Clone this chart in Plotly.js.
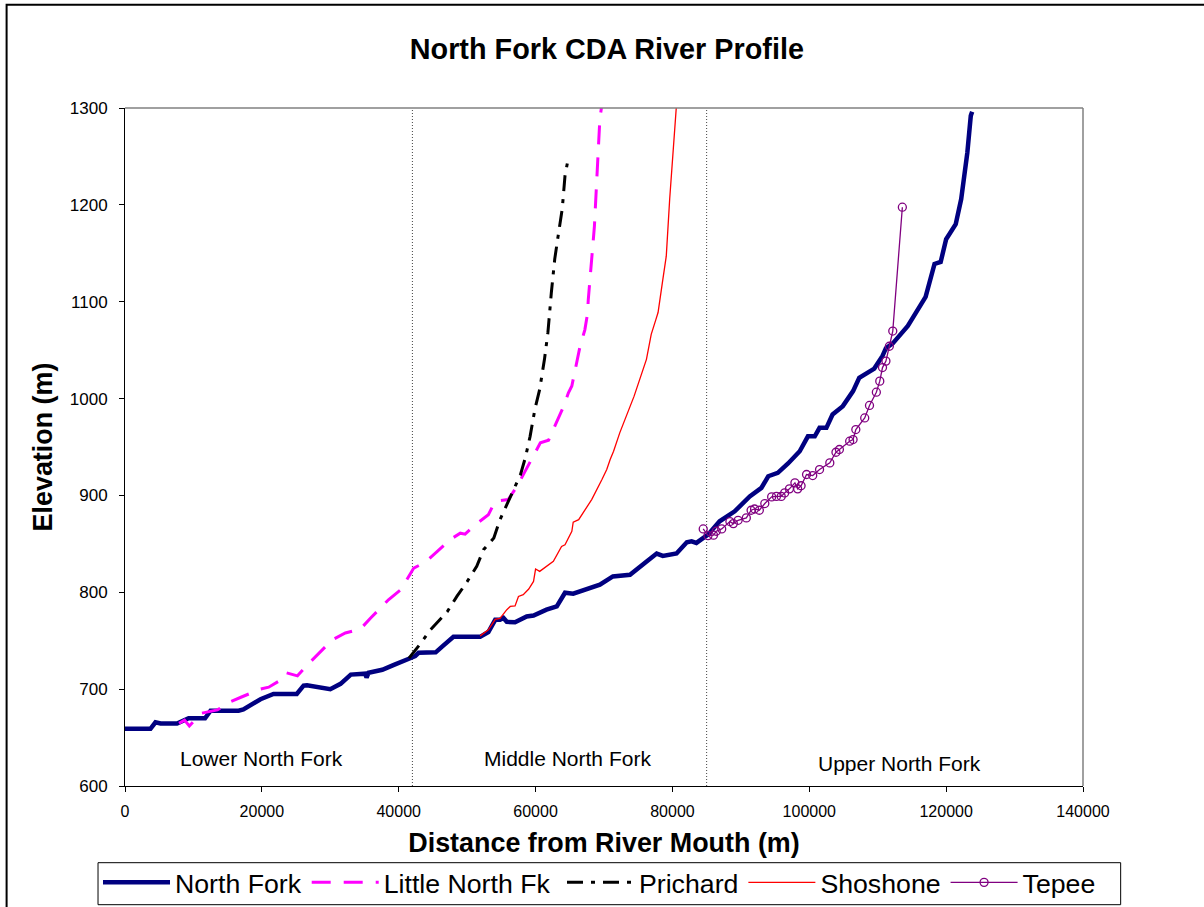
<!DOCTYPE html>
<html>
<head>
<meta charset="utf-8">
<script src="https://cdn.plot.ly/plotly-3.0.1.min.js"></script>
<style>
  html, body { margin: 0; padding: 0; background: #ffffff; }
  #chart { width: 1204px; height: 907px; }
</style>
</head>
<body>
<div id="chart"></div>
<script>
// ---- Data ----
const northForkX = [0, 3720, 4450, 5200, 7600, 9300, 11700, 12500, 16600, 17300, 19800, 20500, 21700, 25100, 26100, 26600, 30000, 31500, 33000, 35100, 35300, 35600, 37600, 39300, 41700, 42400, 42900, 45400, 46300, 48000, 51900, 53100, 54100, 54800, 55300, 55800, 57000, 58700, 59700, 61600, 63100, 64300, 65500, 68000, 69400, 71300, 73800, 76000, 77700, 78600, 80600, 82100, 82800, 83500, 84000, 85200, 86900, 89100, 91300, 93000, 94000, 95400, 96900, 98600, 99800, 100800, 101500, 102500, 103400, 104900, 106400, 107300, 109500, 110700, 111200, 112200, 114400, 117000, 118300, 119200, 120000, 121400, 122200, 123100, 123600, 123800];
const northForkY = [659, 659, 665.8, 664.5, 664.5, 670, 670, 677.8, 677.8, 679, 689.6, 691.7, 695, 695, 703.6, 704, 700, 705.5, 715, 716, 712, 717, 720, 725, 732, 734, 737.5, 738, 743.7, 754, 754, 759, 771.6, 771.6, 773.5, 769.5, 769, 775, 776, 782, 785.4, 799.5, 798.5, 804.7, 807.8, 816.4, 818, 830.5, 840, 837.5, 840, 851.6, 852.6, 851, 853.5, 859.5, 873.3, 883.6, 899, 907.8, 919.8, 923.3, 933, 945.6, 961, 961, 969.8, 969.8, 983.6, 992.2, 1007.7, 1021.5, 1031, 1044, 1052, 1057, 1075, 1105, 1139, 1141, 1164.5, 1180, 1206, 1254, 1292, 1296];

const littleNorthX = [7900, 8700, 9400, 11100, 13500, 15500, 17200, 19800, 21000, 22800, 23500, 25200, 26900, 28300, 30300, 32200, 34400, 35900, 37100, 38500, 40300, 42200, 43600, 44400, 45600, 47500, 49000, 49700, 51200, 53100, 54100, 56000, 57300, 59000, 59900, 60700, 61900, 63100, 64100, 64800, 65300, 66500, 67200, 67600, 67700, 68200, 68600, 68900, 69200, 69400, 69700];
const littleNorthY = [664.8, 668, 662, 675, 678.6, 687.2, 692.4, 700, 702, 709.6, 717, 713.7, 726.8, 737, 751, 758, 762, 773.4, 782, 792.3, 802.6, 825, 830, 834.4, 842, 854.3, 861, 860, 869.8, 880, 894, 895.7, 909.5, 932, 944, 954.3, 957, 976.7, 992, 1006, 1013, 1054, 1071, 1088, 1102, 1144, 1178, 1220, 1258, 1289, 1304];

const prichardX = [41500, 43400, 44600, 47100, 48500, 50000, 51400, 52400, 53900, 54800, 55800, 56800, 57800, 58500, 59200, 59900, 60600, 61300, 61800, 62300, 62800, 63300, 63900, 64300, 64800];
const prichardY = [732, 749, 761, 780, 795.7, 811, 826.8, 844, 856, 875, 890.5, 906, 921.6, 938.8, 961, 989, 1009.5, 1040.5, 1068, 1109, 1144, 1168, 1196, 1230, 1249];

const shoshoneX = [51900, 53100, 54100, 54800, 55800, 56300, 57000, 57500, 58200, 59000, 59700, 60000, 60600, 62600, 63800, 64300, 65300, 65500, 66300, 68200, 69700, 70400, 70900, 71400, 72300, 73300, 74400, 76200, 76900, 77600, 77900, 78600, 79100, 79600, 80100, 80600];
const shoshoneY = [755, 761.3, 772, 773, 782, 785.4, 786, 795.7, 797.5, 803.4, 811.2, 824, 821.6, 832, 847.4, 849, 863, 872.3, 875, 895.7, 916.4, 926.7, 937, 945.6, 964.6, 981.8, 1002.5, 1040.5, 1066.3, 1082, 1088.8, 1123, 1147, 1206, 1258, 1304];

const tepeeX = [84500, 85200, 86000, 86400, 87200, 88400, 88900, 89600, 90800, 91500, 92000, 92700, 93500, 94500, 95200, 95900, 96400, 97100, 97900, 98300, 98800, 99600, 100500, 101500, 103000, 103900, 104400, 105900, 106400, 106800, 108100, 108800, 109800, 110300, 110700, 111200, 111700, 112200, 113600];
const tepeeY = [865.4, 858.5, 859, 863, 865.4, 873, 870.9, 874.3, 876.8, 884.7, 886, 884.7, 891.6, 898.5, 899, 899, 902.6, 906.8, 913, 906.8, 910, 921.6, 920.5, 926.7, 933.6, 944.6, 947.4, 956, 957.7, 968, 980, 992.9, 1006.6, 1018, 1032, 1038.7, 1054, 1069.7, 1197.6];

const seriesNames = ["North Fork", "Little North Fk", "Prichard", "Shoshone", "Tepee"];
const dividerX = [42000, 85000];
const reachLabels = ["Lower North Fork", "Middle North Fork", "Upper North Fork"];
const reachLabelX = [19930, 64600, 113200];

const titleText = "North Fork CDA River Profile";
const xTitle = "Distance from River Mouth (m)";
const yTitle = "Elevation (m)";

// ---- Chart ----
const FONT = "Liberation Sans, Arial, Helvetica, sans-serif";

const traces = [
  { x: northForkX, y: northForkY, name: seriesNames[0], type: "scatter", mode: "lines", legend: "legend",
    line: { color: "#000080", width: 4.5 } },
  { x: littleNorthX, y: littleNorthY, name: seriesNames[1], type: "scatter", mode: "lines", legend: "legend",
    line: { color: "#FF00FF", width: 3, dash: "19px,13px" } },
  { x: prichardX, y: prichardY, name: seriesNames[2], type: "scatter", mode: "lines", legend: "legend2",
    line: { color: "#000000", width: 3, dash: "16px,8px,4px,8px" } },
  { x: shoshoneX, y: shoshoneY, name: seriesNames[3], type: "scatter", mode: "lines", legend: "legend2",
    line: { color: "#FF0000", width: 1.3 } },
  { x: tepeeX, y: tepeeY, name: seriesNames[4], type: "scatter", mode: "lines+markers", legend: "legend2",
    line: { color: "#800080", width: 1.3 },
    marker: { symbol: "circle-open", size: 8, color: "#800080", line: { width: 1.3, color: "#800080" } } }
];

// plot area in pixels (for paper-coordinate conversions of decorations)
const PL = 124.5, PR = 1083.3, PT = 108.3, PB = 786.3;
const px2paperX = function (px) { return (px - PL) / (PR - PL); };
const px2paperY = function (py) { return (PB - py) / (PB - PT); };

const shapes = [];
dividerX.forEach(function (dx) {
  shapes.push({ type: "line", xref: "x", yref: "paper", x0: dx, x1: dx, y0: 0, y1: 1,
    line: { color: "#444444", width: 1, dash: "1px,2px" }, layer: "below" });
});
// plot-area frame top & right (grey)
shapes.push({ type: "line", xref: "paper", yref: "paper", x0: 0, x1: 1, y0: 1, y1: 1,
  line: { color: "#808080", width: 1.5 } });
shapes.push({ type: "line", xref: "paper", yref: "paper", x0: 1, x1: 1, y0: 0, y1: 1,
  line: { color: "#808080", width: 1.5 } });
// outer chart-area border
shapes.push({ type: "rect", xref: "paper", yref: "paper", x0: px2paperX(6), x1: 1.3, y0: -0.3, y1: px2paperY(5),
  line: { color: "#000000", width: 2 }, fillcolor: "rgba(0,0,0,0)" });
// legend frame
shapes.push({ type: "rect", xref: "paper", yref: "paper",
  x0: px2paperX(97.5), x1: px2paperX(1121), y0: px2paperY(905), y1: px2paperY(863),
  line: { color: "#000000", width: 1 }, fillcolor: "rgba(0,0,0,0)" });

const annotations = reachLabels.map(function (t, i) {
  return { text: t, x: reachLabelX[i], y: (i === 2 ? 623.6 : 628.2), xref: "x", yref: "y",
    showarrow: false, xanchor: "center", yanchor: "middle",
    font: { family: FONT, size: 21, color: "#000000" } };
});

const legendCommon = {
  orientation: "h", xref: "container", yref: "container", xanchor: "left", yanchor: "top",
  borderwidth: 0, bgcolor: "rgba(0,0,0,0)",
  font: { family: FONT, size: 26.7, color: "#000000" },
  itemwidth: 67, tracegroupgap: 0, traceorder: "normal"
};

const layout = {
  width: 1204, height: 907,
  margin: { l: PL, r: 1204 - PR, t: PT, b: 907 - PB, pad: 0 },
  paper_bgcolor: "#ffffff", plot_bgcolor: "#ffffff",
  font: { family: FONT, color: "#000000" },
  title: { text: titleText, x: 0.503, xanchor: "center", xref: "paper", y: 1 - 49 / 907, yanchor: "middle",
    font: { family: FONT, size: 28.8, weight: "bold", color: "#000000" } },
  xaxis: {
    range: [0, 140000], dtick: 20000, tick0: 0, tickformat: "d",
    showgrid: false, zeroline: false, showline: true, linecolor: "#000000", linewidth: 1,
    ticks: "outside", ticklen: 5, tickcolor: "#000000", tickwidth: 1,
    tickfont: { family: FONT, size: 16, color: "#000000" }, ticklabelstandoff: 6,
    title: { text: xTitle, font: { family: FONT, size: 26.9, weight: "bold", color: "#000000" }, standoff: 14 },
    automargin: false, fixedrange: true
  },
  yaxis: {
    range: [600, 1300], dtick: 100, tick0: 600,
    showgrid: false, zeroline: false, showline: true, linecolor: "#000000", linewidth: 1,
    ticks: "outside", ticklen: 5, tickcolor: "#000000", tickwidth: 1,
    tickfont: { family: FONT, size: 17, color: "#000000" }, ticklabelstandoff: 8,
    title: { text: yTitle, font: { family: FONT, size: 26.9, weight: "bold", color: "#000000" }, standoff: 9 },
    automargin: false, fixedrange: true
  },
  showlegend: true,
  legend: Object.assign({}, legendCommon, { x: 98 / 1204, y: 1 - 858.5 / 907 }),
  legend2: Object.assign({}, legendCommon, { x: 562 / 1204, y: 1 - 858.5 / 907 }),
  shapes: shapes,
  annotations: annotations
};

Plotly.newPlot("chart", traces, layout, { displayModeBar: false, staticPlot: true });
</script>
</body>
</html>
